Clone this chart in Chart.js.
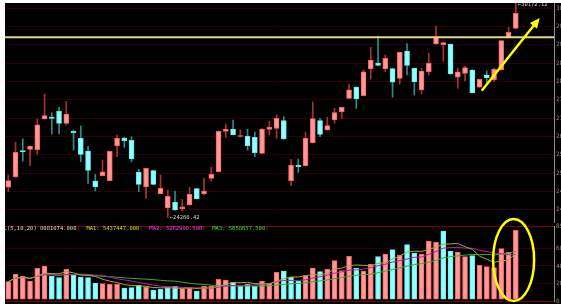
<!DOCTYPE html>
<html>
<head>
<meta charset="utf-8">
<script src="https://cdn.jsdelivr.net/npm/chart.js@4.4.0/dist/chart.umd.min.js"></script>
<style>
html, body { margin: 0; padding: 0; background: #fff; width: 561px; height: 304px; overflow: hidden; }
#wrap { position: absolute; left: 5px; top: 3px; width: 595px; height: 301px; background: #000; overflow: hidden; }
#price-chart { position: absolute; left: 0; top: 0; }
#volume-chart { position: absolute; left: 0; top: 210px; }
</style>
</head>
<body>
<div id="wrap">
  <canvas id="price-chart" width="595" height="220"></canvas>
  <canvas id="volume-chart" width="595" height="91"></canvas>
</div>
<script>
// ==============================
// Data
// ==============================
const openPrices = [
  25094, 25378, 26104, 26142, 26135, 26979, 27034, 27191, 26860, 26639,
  26446, 26095, 25267, 25414, 25276, 26233, 26454, 26391, 25508, 25102,
  25552, 24917, 24522, 24680, 24503, 24605, 25055, 24917, 25342, 25524,
  26639, 26694, 26496, 26509, 26474, 26032, 26694, 26722, 26932, 25276,
  25709, 25690, 26325, 26932, 26675, 26951, 27180, 27550, 27862, 27622,
  28359, 28524, 28359, 28367, 28102, 28855, 28378, 27779, 28284, 29049,
  29029, 29040, 28130, 28240, 28331, 27854, 28193, 28055, 28331, 29223,
  29482
];
const closePrices = [
  25276, 26060, 26068, 26225, 26821, 27070, 26998, 26860, 27117, 26601,
  26004, 25563, 25110, 25524, 26087, 26446, 26380, 25875, 25176, 25618,
  25176, 25066, 24845, 24467, 24558, 24900, 24779, 24991, 25452, 26639,
  26703, 26545, 26523, 26242, 26049, 26703, 26750, 26998, 26427, 25709,
  25662, 26446, 26987, 26556, 26794, 27153, 27302, 27787, 27531, 28284,
  28607, 28461, 28654, 27992, 28820, 28461, 28008, 28303, 28516, 29234,
  29085, 28221, 28284, 28395, 27705, 28074, 28119, 28350, 29140, 29372,
  29896
];
const highPrices = [
  25433, 26336, 26435, 26240, 26979, 27669, 27153, 27302, 27467, 26675,
  26785, 26225, 25452, 25847, 26095, 26537, 26474, 26490, 25590, 25626,
  25571, 25433, 25019, 24991, 24762, 25094, 25066, 25342, 25646, 26647,
  26841, 26951, 26675, 26694, 26620, 26711, 26923, 27089, 27042, 25866,
  25875, 26620, 27448, 26998, 27026, 27274, 27310, 27945, 27870, 28331,
  28958, 29269, 28745, 28372, 28828, 29057, 28386, 28378, 28792, 29545,
  29090, 29049, 28378, 28441, 28339, 28083, 28303, 28378, 29145, 29510,
  30172.12
];
const lowPrices = [
  24972, 25370, 25819, 25690, 26013, 26972, 26565, 26565, 26813, 26123,
  25800, 25193, 24991, 25405, 25267, 25938, 26198, 25800, 24972, 24790,
  25165, 24909, 24260.42, 24459, 24448, 24597, 24771, 24881, 25267, 25516,
  26474, 26537, 26482, 26123, 25938, 26021, 26537, 26446, 26418, 25138,
  25508, 25681, 26316, 26490, 26667, 26860, 26998, 27539, 27274, 27613,
  28083, 28455, 28284, 27578, 27945, 28193, 27641, 27669, 28193, 29040,
  28579, 28212, 27826, 28036, 27696, 27848, 27964, 28008, 28323, 29214,
  29476
];
const volumes = [
  2206000, 3051000, 2823000, 2286000, 3737000, 4000000, 2823000, 2663000, 3623000, 2971000,
  2743000, 2663000, 2057000, 1977000, 1909000, 1943000, 1486000, 1520000, 1829000, 1600000,
  1257000, 1337000, 1520000, 1680000, 1406000, 1486000, 1143000, 1714000, 1714000, 2480000,
  2400000, 2137000, 1714000, 1943000, 1714000, 2286000, 2023000, 3280000, 3429000, 2709000,
  2251000, 2891000, 3771000, 3349000, 3623000, 4606000, 3463000, 5109000, 3771000, 3429000,
  4194000, 5063000, 5371000, 5863000, 5257000, 6434000, 5486000, 5337000, 6857000, 6709000,
  8000000, 5714000, 5566000, 5063000, 5177000, 4080000, 3920000, 3806000, 5977000, 5566000,
  8081074
];
const maPeriods = [5, 10, 20];
const maLegendValues = [5437447.000, 5262990.500, 5658657.500];

const priceTicks = [30042, 29536, 29030, 28524, 28018, 27512, 27006, 26500, 25994, 25488, 24982, 24476];
const volumeTicks = [0, 2000000, 4000000, 6000000, 8571000];
const resistanceLevel = 29234;

// ==============================
// Helpers
// ==============================
const upFill = "#ff9a9a", upBorder = "#ff5c5c", upWick = "#a83232";
const downFill = "#96ffff", downBorder = "#5cf0f0", downWick = "#2a8c8c";
const gridColor = "#2e0000";

const indices = openPrices.map(function (v, i) { return i; });
const isUp = indices.map(function (i) { return closePrices[i] >= openPrices[i]; });
const volUp = indices.map(function (i) {
  const prev = i === 0 ? openPrices[0] : closePrices[i - 1];
  return closePrices[i] >= prev;
});

function movingAverage(period) {
  return volumes.map(function (v, i) {
    const from = Math.max(0, i - period + 1);
    const part = volumes.slice(from, i + 1);
    return { x: i, y: part.reduce(function (a, b) { return a + b; }, 0) / part.length };
  });
}

const xAxis = { type: "linear", min: -0.455, max: 75.27, offset: false, display: false };

function fitRightAxis(scale) {
  scale.width = 46;
  scale.paddingTop = 0;
  scale.paddingBottom = 0;
}

const axisTicks = {
  color: "#8c8c8c",
  padding: 2,
  font: { family: "DejaVu Sans Mono", size: 6 }
};

// ==============================
// Price chart
// ==============================
const priceOverlay = {
  id: "priceOverlay",
  afterDatasetsDraw(chart) {
    const ctx = chart.ctx, area = chart.chartArea;
    const x = chart.scales.x, y = chart.scales.y;
    ctx.save();

    // horizontal level
    const ly = y.getPixelForValue(resistanceLevel);
    ctx.strokeStyle = "#e6d68a";
    ctx.lineWidth = 2;
    ctx.beginPath();
    ctx.moveTo(area.left, ly);
    ctx.lineTo(area.right, ly);
    ctx.stroke();

    // trend arrow
    const x1 = x.getPixelForValue(65.3), y1 = y.getPixelForValue(27760);
    const x2 = x.getPixelForValue(73.3), y2 = y.getPixelForValue(29766);
    const ang = Math.atan2(y2 - y1, x2 - x1);
    ctx.strokeStyle = "#ffff00";
    ctx.fillStyle = "#ffff00";
    ctx.lineWidth = 2.5;
    ctx.beginPath();
    ctx.moveTo(x1, y1);
    ctx.lineTo(x2 - 6 * Math.cos(ang), y2 - 6 * Math.sin(ang));
    ctx.stroke();
    ctx.beginPath();
    ctx.moveTo(x2, y2);
    ctx.lineTo(x2 - 10 * Math.cos(ang) + 4.5 * Math.sin(ang), y2 - 10 * Math.sin(ang) - 4.5 * Math.cos(ang));
    ctx.lineTo(x2 - 10 * Math.cos(ang) - 4.5 * Math.sin(ang), y2 - 10 * Math.sin(ang) + 4.5 * Math.cos(ang));
    ctx.closePath();
    ctx.fill();

    // min / max labels
    const lowIdx = lowPrices.indexOf(Math.min.apply(null, lowPrices));
    const highIdx = highPrices.indexOf(Math.max.apply(null, highPrices));
    ctx.font = '5.5px "DejaVu Sans Mono"';
    ctx.textBaseline = "middle";
    ctx.fillStyle = "#d0d0d0";
    ctx.fillText("\u2190" + lowPrices[lowIdx].toFixed(2), x.getPixelForValue(lowIdx) + 2, y.getPixelForValue(lowPrices[lowIdx]) + 0.5);
    ctx.fillText("\u2190" + highPrices[highIdx].toFixed(2), x.getPixelForValue(highIdx) + 2, y.getPixelForValue(highPrices[highIdx]) + 1.5);
    ctx.restore();
  }
};

new Chart(document.getElementById("price-chart"), {
  type: "bar",
  data: {
    datasets: [
      {
        label: "wick",
        data: indices.map(function (i) { return { x: i, y: [lowPrices[i], highPrices[i]] }; }),
        backgroundColor: indices.map(function (i) { return isUp[i] ? upWick : downWick; }),
        barThickness: 1,
        grouped: false,
        order: 2
      },
      {
        label: "body",
        data: indices.map(function (i) { return { x: i, y: [openPrices[i], closePrices[i]] }; }),
        backgroundColor: indices.map(function (i) { return isUp[i] ? upFill : downFill; }),
        borderColor: indices.map(function (i) { return isUp[i] ? upBorder : downBorder; }),
        borderWidth: 1,
        borderSkipped: false,
        barThickness: 5,
        minBarLength: 1,
        grouped: false,
        order: 1
      }
    ]
  },
  options: {
    responsive: false,
    animation: false,
    devicePixelRatio: 1,
    events: [],
    layout: { padding: 0 },
    plugins: { legend: { display: false }, tooltip: { enabled: false } },
    scales: {
      x: xAxis,
      y: {
        position: "right",
        min: 24108.4,
        max: 30180.4,
        afterFit: fitRightAxis,
        afterBuildTicks: function (scale) {
          scale.ticks = priceTicks.map(function (v) { return { value: v }; });
        },
        grid: { color: gridColor, drawTicks: false },
        border: { color: "#8a8a8a" },
        ticks: Object.assign({}, axisTicks, {
          callback: function (v) { return v.toFixed(0); }
        })
      }
    }
  },
  plugins: [priceOverlay]
});

// ==============================
// Volume chart
// ==============================
const maColors = ["#a8a830", "#b020b0", "#30b030"];
const legendColors = ["#d8d840", "#ff40ff", "#40e040"];

const volumeOverlay = {
  id: "volumeOverlay",
  afterDraw(chart) {
    const ctx = chart.ctx;
    const x = chart.scales.x, y = chart.scales.y;
    ctx.save();

    // legend line
    const parts = [
      { text: "VOL(" + maPeriods.join(",") + ") " + volumes[volumes.length - 1].toFixed(3), color: "#d8d8d8" },
      { text: "|", color: "#d02020" }
    ];
    maLegendValues.forEach(function (v, k) {
      parts.push({ text: "  MA" + (k + 1) + ": " + v.toFixed(3), color: legendColors[k] });
      parts.push({ text: "|", color: "#d02020" });
    });
    ctx.font = '5.5px "DejaVu Sans Mono"';
    ctx.textBaseline = "middle";
    let tx = -8;
    parts.forEach(function (p) {
      ctx.fillStyle = p.color;
      ctx.fillText(p.text, tx, 15.5);
      tx += ctx.measureText(p.text).width;
    });

    // highlight ellipse round the last bars
    const cx = x.getPixelForValue(69.7), cy = y.getPixelForValue(4686000);
    const rx = x.getPixelForValue(69.7 + 2.83) - cx;
    const ry = cy - y.getPixelForValue(4686000 * 2);
    ctx.strokeStyle = "#ffff00";
    ctx.lineWidth = 2.5;
    ctx.beginPath();
    ctx.ellipse(cx, cy, rx, ry, 0, 0, Math.PI * 2);
    ctx.stroke();
    ctx.restore();
  }
};

const volumeDatasets = [
  {
    type: "bar",
    data: indices.map(function (i) { return { x: i, y: volumes[i] }; }),
    backgroundColor: indices.map(function (i) { return volUp[i] ? upFill : downFill; }),
    borderColor: indices.map(function (i) { return volUp[i] ? upBorder : downBorder; }),
    borderWidth: 1,
    borderSkipped: false,
    barThickness: 5,
    base: 200000,
    grouped: false,
    order: 2
  }
];
maPeriods.forEach(function (p, k) {
  volumeDatasets.push({
    type: "line",
    data: movingAverage(p),
    borderColor: maColors[k],
    borderWidth: 1,
    pointRadius: 0,
    tension: 0,
    order: 1
  });
});

new Chart(document.getElementById("volume-chart"), {
  type: "bar",
  data: { datasets: volumeDatasets },
  options: {
    responsive: false,
    animation: false,
    devicePixelRatio: 1,
    events: [],
    layout: { padding: { top: 13, bottom: 3, left: 0, right: 0 } },
    plugins: { legend: { display: false }, tooltip: { enabled: false } },
    scales: {
      x: xAxis,
      y: {
        position: "right",
        min: 0,
        max: volumeTicks[volumeTicks.length - 1],
        afterFit: fitRightAxis,
        afterBuildTicks: function (scale) {
          scale.ticks = volumeTicks.map(function (v) { return { value: v }; });
        },
        grid: {
          drawTicks: false,
          color: function (c) {
            const v = c.tick ? c.tick.value : null;
            return (v === 0 || v === volumeTicks[volumeTicks.length - 1]) ? "#7a0000" : gridColor;
          }
        },
        border: { color: "#8a8a8a" },
        ticks: Object.assign({}, axisTicks, {
          callback: function (v) { return (v / 10000).toFixed(0); }
        })
      }
    }
  },
  plugins: [volumeOverlay]
});
</script>
</body>
</html>
